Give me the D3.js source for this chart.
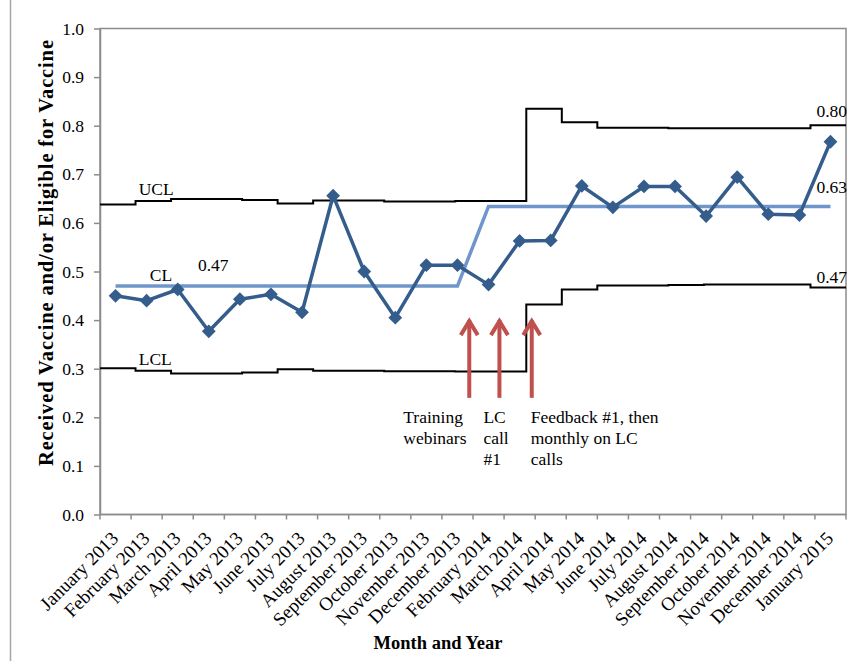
<!DOCTYPE html>
<html>
<head>
<meta charset="utf-8">
<script src="https://cdn.jsdelivr.net/npm/d3@7"></script>
<style>
  body { margin: 0; background: #fff; }
  svg text { font-family: "Liberation Serif", "Times New Roman", serif; }
</style>
</head>
<body>
<script>
// ================= Data ======================
const months = [
  "January 2013", "February 2013", "March 2013", "April 2013", "May 2013", "June 2013",
  "July 2013", "August 2013", "September 2013", "October 2013", "November 2013", "December 2013",
  "February 2014", "March 2014", "April 2014", "May 2014", "June 2014", "July 2014",
  "August 2014", "September 2014", "October 2014", "November 2014", "December 2014", "January 2015"
];
const proportion = [
  0.450, 0.440, 0.463, 0.377, 0.443, 0.453, 0.416, 0.656, 0.500, 0.405, 0.513, 0.513,
  0.473, 0.563, 0.564, 0.676, 0.632, 0.675, 0.675, 0.614, 0.694, 0.618, 0.616, 0.767
];
const centerLine = [
  0.47, 0.47, 0.47, 0.47, 0.47, 0.47, 0.47, 0.47, 0.47, 0.47, 0.47, 0.47,
  0.634, 0.634, 0.634, 0.634, 0.634, 0.634, 0.634, 0.634, 0.634, 0.634, 0.634, 0.634
];
// control limits come as 21 steps across the same width
const ucl = [
  0.638, 0.645, 0.649, 0.649, 0.647, 0.640, 0.646, 0.646, 0.644, 0.644, 0.645,
  0.645, 0.835, 0.807, 0.796, 0.796, 0.795, 0.795, 0.795, 0.795, 0.801
];
const lcl = [
  0.301, 0.296, 0.290, 0.290, 0.292, 0.299, 0.296, 0.296, 0.295, 0.295, 0.294,
  0.294, 0.432, 0.463, 0.471, 0.471, 0.472, 0.4735, 0.4735, 0.4735, 0.467
];
const yTicks = [0, 0.1, 0.2, 0.3, 0.4, 0.5, 0.6, 0.7, 0.8, 0.9, 1.0];
// position in months (boundary units) where each arrow stands
const interventions = [
  { at: 11.88, lines: ["Training", "webinars"], dx: -66 },
  { at: 12.85, lines: ["LC", "call", "#1"], dx: -16 },
  { at: 13.89, lines: ["Feedback #1, then", "monthly on LC", "calls"], dx: -1 }
];

// ================== LAYOUT ===========================
const W = 854, H = 661;
const margin = { left: 100, right: 8, top: 28.5, bottom: 146.5 };
const width = W - margin.left - margin.right;
const height = H - margin.top - margin.bottom;
const SERIF = "Liberation Serif";

const svg = d3.select("body").append("svg")
  .attr("width", W).attr("height", H);

// outer frame line on the left
svg.append("line")
  .attr("x1", 10.5).attr("x2", 10.5).attr("y1", 0).attr("y2", H)
  .attr("stroke", "#a6a6a6").attr("stroke-width", 1.5);

const g = svg.append("g").attr("transform", `translate(${margin.left},${margin.top})`);

// ================= Scales ======================
const x = d3.scaleBand().domain(months).range([0, width]);
const xIdx = d3.scaleLinear().domain([0, months.length]).range([0, width]);
const xLim = d3.scaleLinear().domain([0, ucl.length]).range([0, width]);
const y = d3.scaleLinear().domain([0, 1]).range([height, 0]);

// plot border
g.append("rect")
  .attr("width", width).attr("height", height)
  .attr("fill", "none").attr("stroke", "#8c8c8c").attr("stroke-width", 1.5);

// ===================== AXIS: Y =======================
const yAxis = d3.axisLeft(y).tickValues(yTicks).tickFormat(d3.format(".1f"))
  .tickSize(6).tickSizeOuter(0).tickPadding(10);
const ya = g.append("g").call(yAxis).attr("font-family", SERIF);
ya.select(".domain").attr("stroke", "#8c8c8c").attr("stroke-width", 1.5);
ya.selectAll(".tick line").attr("stroke", "#8c8c8c").attr("stroke-width", 1.5);
ya.selectAll(".tick text").attr("font-size", 17.5).attr("fill", "#000");

// ===================== AXIS: X =======================
const xa = g.append("g").attr("transform", `translate(0,${height})`);
xa.append("line").attr("x1", 0).attr("x2", width)
  .attr("stroke", "#8c8c8c").attr("stroke-width", 1.5);
xa.selectAll("line.tk").data(d3.range(months.length + 1)).join("line")
  .attr("class", "tk")
  .attr("x1", d => xIdx(d)).attr("x2", d => xIdx(d))
  .attr("y1", 0).attr("y2", 5)
  .attr("stroke", "#8c8c8c").attr("stroke-width", 1.5);
xa.selectAll("text").data(months).join("text")
  .attr("transform", d => `translate(${x(d) + x.bandwidth() / 2 + 4},${25}) rotate(-45)`)
  .attr("text-anchor", "end")
  .attr("font-family", SERIF)
  .attr("font-size", 19)
  .text(d => d);

// axis titles
svg.append("text")
  .attr("transform", `translate(53,253) rotate(-90)`)
  .attr("text-anchor", "middle").attr("font-weight", "bold").attr("font-size", 20.5)
  .attr("font-family", SERIF)
  .attr("textLength", 426).attr("lengthAdjust", "spacing")
  .text("Received Vaccine and/or Eligible for Vaccine");
svg.append("text")
  .attr("x", 438).attr("y", 649)
  .attr("text-anchor", "middle").attr("font-weight", "bold").attr("font-size", 18.5)
  .attr("font-family", SERIF)
  .text("Month and Year");

// ==================== Control limits ===========================
const stepLine = d3.line()
  .x(d => xLim(d.i)).y(d => y(d.v))
  .curve(d3.curveStepAfter);
const stepPts = arr => arr.map((v, i) => ({ i, v })).concat([{ i: arr.length, v: arr[arr.length - 1] }]);

[ucl, lcl].forEach(arr => {
  g.append("path")
    .attr("fill", "none").attr("stroke", "#000").attr("stroke-width", 2)
    .attr("d", stepLine(stepPts(arr)));
});

// ==================== Center line ===========================
const xc = d => x(d) + x.bandwidth() / 2;
g.append("path")
  .attr("fill", "none").attr("stroke", "#6f96cb").attr("stroke-width", 3.5)
  .attr("d", d3.line().x((d, i) => xc(months[i])).y(d => y(d))(centerLine));

// ==================== Observed ===========================
g.append("path")
  .attr("fill", "none").attr("stroke", "#345d8c").attr("stroke-width", 3.5)
  .attr("stroke-linejoin", "round")
  .attr("d", d3.line().x((d, i) => xc(months[i])).y(d => y(d))(proportion));
g.selectAll("path.pt").data(proportion).join("path")
  .attr("class", "pt")
  .attr("transform", (d, i) => `translate(${xc(months[i])},${y(d)}) rotate(45)`)
  .attr("d", d3.symbol(d3.symbolSquare, 95))
  .attr("fill", "#345d8c");

// ==================== Labels ===========================
const lab = (tx, ty, t, anchor) => g.append("text")
  .attr("x", tx).attr("y", ty).attr("text-anchor", anchor || "start")
  .attr("font-family", SERIF)
  .attr("font-size", 17.5).text(t);
lab(xLim(1.09), y(ucl[1]) - 6, "UCL");
lab(xLim(1.09), y(lcl[1]) - 6, "LCL");
lab(xIdx(1.6), y(centerLine[0]) - 5, "CL");
lab(xIdx(3.15), y(centerLine[0]) - 15, d3.format(".2f")(centerLine[0]));
lab(width + 1, y(ucl[ucl.length - 1]) - 8, d3.format(".2f")(ucl[ucl.length - 1]), "end");
lab(width + 1, y(centerLine[centerLine.length - 1]) - 13, d3.format(".2f")(centerLine[centerLine.length - 1]), "end");
lab(width + 1, y(lcl[lcl.length - 1]) - 5, d3.format(".2f")(lcl[lcl.length - 1]), "end");

// ==================== Interventions ===========================
const ann = g.selectAll("g.ann").data(interventions).join("g")
  .attr("class", "ann")
  .attr("transform", d => `translate(${xIdx(d.at)},0)`);
ann.append("line")
  .attr("x1", 0).attr("x2", 0)
  .attr("y1", y(0.24)).attr("y2", y(0.40))
  .attr("stroke", "#c0504d").attr("stroke-width", 4);
ann.append("path")
  .attr("d", `M-8.5,${y(0.40) + 15}L0,${y(0.40) + 1}L8.5,${y(0.40) + 15}`)
  .attr("fill", "none").attr("stroke", "#c0504d").attr("stroke-width", 4);
ann.each(function (d) {
  const t = d3.select(this).append("text")
    .attr("font-family", SERIF).attr("font-size", 17.5)
    .attr("x", d.dx).attr("y", y(0.24) + 25);
  d.lines.forEach((l, k) => t.append("tspan").attr("x", d.dx).attr("dy", k ? 21 : 0).text(l));
});
</script>
</body>
</html>
